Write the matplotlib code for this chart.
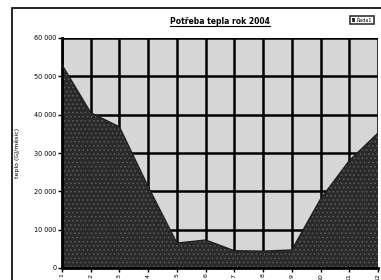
import matplotlib
matplotlib.use("Agg")
import matplotlib.pyplot as plt
from matplotlib.patches import Rectangle
from matplotlib.lines import Line2D
from matplotlib.ticker import FuncFormatter

months = ["1", "2", "3", "4", "5", "6", "7", "8", "9", "10", "11", "12"]
values = [53000, 40500, 36800, 21200, 6500, 7300, 4500, 4400, 4700, 18000, 28000, 35200]
title = "Potřeba tepla rok 2004"
ylabel = "teplo (GJ/měsíc)"
series_name = "Řada1"

plt.rcParams['font.family'] = ['DejaVu Sans']
plt.rcParams['hatch.linewidth'] = 0.6

fig = plt.figure(figsize=(3.81, 2.80), dpi=100)
fig.patch.set_facecolor("white")
ax = fig.add_axes([62/381, 1-268/280, (378-62)/381, (268-38)/280])
ax.set_facecolor("#d6d6d6")

x = list(range(len(months)))
ax.set_xlim(0, len(months)-1)
ax.set_ylim(0, 60000)
ax.set_yticks(range(0, 60001, 10000))
ax.yaxis.set_major_formatter(FuncFormatter(lambda v, p: f"{int(v):,}".replace(",", " ")))
ax.set_xticks(x)
ax.set_xticklabels(months, rotation=90, fontsize=4.5)
ax.grid(True, color="black", linewidth=1.8, zorder=1)
ax.set_axisbelow(True)
ax.fill_between(x, values, 0, facecolor="#2a2a2a", edgecolor="#5e5e5e", hatch="....",
                linewidth=0, zorder=2, label=series_name)
ax.plot(x, values, color="#1e1e1e", linewidth=1.0, zorder=3)

for s in ["top", "right"]:
    ax.spines[s].set_visible(False)
ax.spines["left"].set_linewidth(2)
ax.spines["bottom"].set_linewidth(2)
ax.tick_params(axis="y", labelsize=4.7, length=3, width=1, pad=1)
ax.tick_params(axis="x", length=3, width=1, pad=1)
ax.set_ylabel(ylabel, fontsize=4.5, labelpad=10)

fig.text(220/381, 1-22/280, title, ha="center", va="center", fontsize=5.5, fontweight="bold")
t = fig.texts[-1]
fig.canvas.draw()
bb = t.get_window_extent()
W, H = fig.get_size_inches()*fig.dpi
fig.add_artist(Line2D([bb.x0/W, bb.x1/W], [(bb.y0+0.5)/H, (bb.y0+0.5)/H], color="black", linewidth=0.8))

leg = fig.legend(loc="center", bbox_to_anchor=(362/381, 1-20/280), fontsize=3.5,
                 handlelength=0.8, handleheight=0.8, handletextpad=0.3, borderpad=0.3,
                 frameon=True, fancybox=False, edgecolor="black")
leg.get_frame().set_linewidth(1.2)

fig.add_artist(Rectangle((12/381, -0.2), 1.5, 1-8/280+0.2, transform=fig.transFigure,
                         fill=False, edgecolor="black", linewidth=1.2))

fig.savefig("out.png", dpi=100)
